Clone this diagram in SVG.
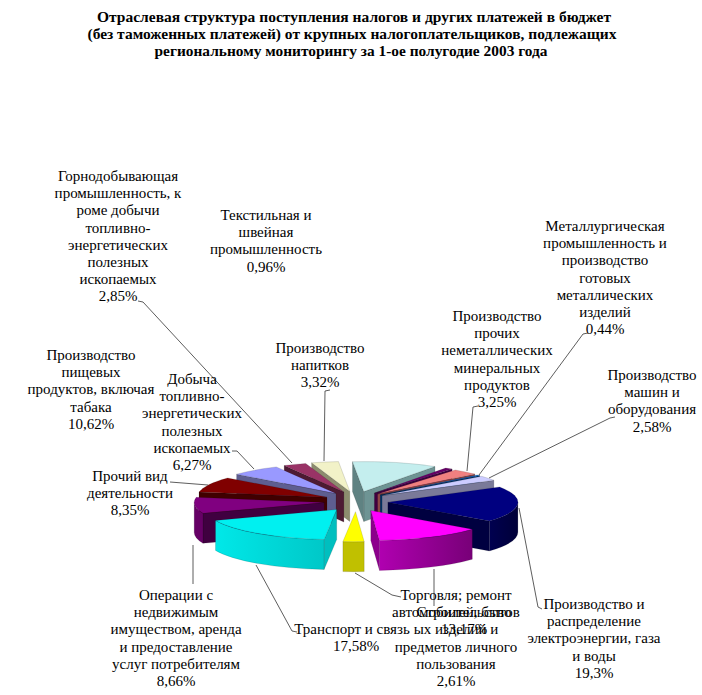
<svg xmlns="http://www.w3.org/2000/svg" width="702" height="695" viewBox="0 0 702 695">
<style>
  .lbl { font-family: "Liberation Serif", "DejaVu Serif", serif; font-size: 15px; fill: #000; text-anchor: middle; }
  .ttl { font-family: "Liberation Serif", "DejaVu Serif", serif; font-size: 15px; font-weight: bold; fill: #000; text-anchor: middle; }
  .ld { fill: none; stroke: #333; stroke-width: 0.8; }
  .s { stroke: #000; stroke-opacity: 0.25; stroke-width: 0.5; stroke-linejoin: round; }
</style>
<defs>
  <linearGradient id="gCyan" x1="0" y1="0" x2="1" y2="0">
    <stop offset="0" stop-color="#00E8E8"/>
    <stop offset="1" stop-color="#00C8C8"/>
  </linearGradient>
  <linearGradient id="gMag" x1="0" y1="0" x2="1" y2="0">
    <stop offset="0" stop-color="#B000B0"/>
    <stop offset="1" stop-color="#780078"/>
  </linearGradient>
  <linearGradient id="gNavy" x1="0" y1="0" x2="1" y2="0">
    <stop offset="0" stop-color="#000050"/>
    <stop offset="1" stop-color="#000038"/>
  </linearGradient>
</defs>
<rect width="702" height="695" fill="#fff"/>

<g id="title">
  <text class="ttl" x="354" y="22" textLength="514" lengthAdjust="spacingAndGlyphs">Отраслевая структура поступления налогов и других платежей в бюджет</text>
  <text class="ttl" x="352" y="39" textLength="529" lengthAdjust="spacingAndGlyphs">(без таможенных платежей) от крупных налогоплательщиков, подлежащих</text>
  <text class="ttl" x="351" y="56" textLength="393" lengthAdjust="spacingAndGlyphs">региональному мониторингу за 1-ое полугодие 2003 года</text>
</g>

<g id="connectors">
  <polyline class="ld" points="138,301 143,302 292,463"/>
  <polyline class="ld" points="330,390 325,391 324,461"/>
  <polyline class="ld" points="232,451 237,451 254,469"/>
  <polyline class="ld" points="170,482 208,485"/>
  <polyline class="ld" points="193,584 193,545"/>
  <polyline class="ld" points="297,632 292,631 256,565"/>
  <polyline class="ld" points="401,597 392,595 355,573"/>
  <polyline class="ld" points="434,606 434,569"/>
  <polyline class="ld" points="542,609 538,607 519,508"/>
  <polyline class="ld" points="588,333 583,334 479,475"/>
  <polyline class="ld" points="478,406 473,407 467,471"/>
  <polyline class="ld" points="615,417 610,418 489,478"/>
</g>

<g id="slice-napitki">
  <path class="s" d="M349.8,491.5 L311.6,462.8 L311.6,492.8 L349.8,521.5 Z" fill="#8C8C6E"/>
  <path class="s" d="M349.8,491.5 L311.6,462.8 A130,30 0 0 1 338.5,461.6 Z" fill="#F2F2C8"/>
  <text class="lbl" x="320" y="353">Производство<tspan x="320" dy="17.2">напитков</tspan><tspan x="320" dy="17.2">3,32%</tspan></text>
</g>

<g id="slice-pishchevye">
  <path class="s" d="M363.8,491.6 L435.0,466.5 L435.0,496.5 L363.8,521.6 Z" fill="#6E9494"/>
  <path class="s" d="M363.8,491.6 L352.5,461.7 L352.5,491.7 L363.8,521.6 Z" fill="#5F8282"/>
  <path class="s" d="M363.8,491.6 L352.5,461.7 A130,30 0 0 1 435.0,466.5 Z" fill="#C4EEEE"/>
  <text class="lbl" x="91" y="360">Производство<tspan x="91" dy="17.2">пищевых</tspan><tspan x="91" dy="17.2">продуктов, включая</tspan><tspan x="91" dy="17.2">табака</tspan><tspan x="91" dy="17.2">10,62%</tspan></text>
</g>

<g id="slice-gornodob">
  <path class="s" d="M343.9,492.1 L284.2,465.5 L284.2,495.5 L343.9,522.1 Z" fill="#4D1A33"/>
  <path class="s" d="M343.9,492.1 L284.2,465.5 A130,30 0 0 1 305.7,463.4 Z" fill="#993366"/>
  <text class="lbl" x="118" y="181">Горнодобывающая<tspan x="118" dy="17.2">промышленность, к</tspan><tspan x="118" dy="17.2">роме добычи</tspan><tspan x="118" dy="17.2">топливно-</tspan><tspan x="118" dy="17.2">энергетических</tspan><tspan x="118" dy="17.2">полезных</tspan><tspan x="118" dy="17.2">ископаемых</tspan><tspan x="118" dy="17.2">2,85%</tspan></text>
</g>

<g id="slice-tekstil">
  <path class="s" d="M374.4,493.1 L452.1,469.1 L452.1,499.1 L374.4,523.1 Z" fill="#400040"/>
  <path class="s" d="M374.4,493.1 L445.6,468.0 A130,30 0 0 1 452.1,469.1 Z" fill="#660066"/>
  <text class="lbl" x="266" y="220">Текстильная и<tspan x="266" dy="17.2">швейная</tspan><tspan x="266" dy="17.2">промышленность</tspan><tspan x="266" dy="17.2">0,96%</tspan></text>
</g>

<g id="slice-dobycha">
  <path class="s" d="M336.0,493.5 L236.6,474.2 L236.6,504.2 L336.0,523.5 Z" fill="#5E5E90"/>
  <path class="s" d="M336.0,493.5 L236.6,474.2 A130,30 0 0 1 276.3,466.9 Z" fill="#9999FF"/>
  <text class="lbl" x="192" y="384">Добыча<tspan x="192" dy="17.2">топливно-</tspan><tspan x="192" dy="17.2">энергетических</tspan><tspan x="192" dy="17.2">полезных</tspan><tspan x="192" dy="17.2">ископаемых</tspan><tspan x="192" dy="17.2">6,27%</tspan></text>
</g>

<g id="slice-nemetall">
  <path class="s" d="M377.6,494.0 L474.8,474.1 L474.8,504.1 L377.6,524.0 Z" fill="#904848"/>
  <path class="s" d="M377.6,494.0 L455.3,470.0 A130,30 0 0 1 474.8,474.1 Z" fill="#F08080"/>
  <text class="lbl" x="497" y="321">Производство<tspan x="497" dy="17.2">прочих</tspan><tspan x="497" dy="17.2">неметаллических</tspan><tspan x="497" dy="17.2">минеральных</tspan><tspan x="497" dy="17.2">продуктов</tspan><tspan x="497" dy="17.2">3,25%</tspan></text>
</g>

<g id="slice-metallurg">
  <path class="s" d="M380.2,494.8 L479.8,475.5 L479.8,505.5 L380.2,524.8 Z" fill="#003366"/>
  <path class="s" d="M380.2,494.8 L477.4,474.9 A130,30 0 0 1 479.8,475.5 Z" fill="#0066CC"/>
  <text class="lbl" x="605" y="231">Металлургическая<tspan x="605" dy="17.2">промышленность и</tspan><tspan x="605" dy="17.2">производство</tspan><tspan x="605" dy="17.2">готовых</tspan><tspan x="605" dy="17.2">металлических</tspan><tspan x="605" dy="17.2">изделий</tspan><tspan x="605" dy="17.2">0,44%</tspan></text>
</g>

<g id="slice-mashiny">
  <path class="s" d="M382.1,495.6 L493.9,480.3 L493.9,510.3 L382.1,525.6 Z" fill="#7A7A99"/>
  <path class="s" d="M382.1,495.6 L481.7,476.3 A130,30 0 0 1 493.9,480.3 Z" fill="#CCCCFF"/>
  <text class="lbl" x="652" y="380">Производство<tspan x="652" dy="17.2">машин и</tspan><tspan x="652" dy="17.2">оборудования</tspan><tspan x="652" dy="17.2">2,58%</tspan></text>
</g>

<g id="slice-prochiy">
  <path class="s" d="M327.0,497.2 L199.0,492.0 L199.0,522.0 L327.0,527.2 Z" fill="#400000"/>
  <path class="s" d="M327.0,497.2 L199.0,492.0 A130,30 0 0 1 227.6,477.9 Z" fill="#800000"/>
  <text class="lbl" x="130" y="481">Прочий вид<tspan x="130" dy="17.2">деятельности</tspan><tspan x="130" dy="17.2">8,35%</tspan></text>
</g>

<g id="slice-elektro">
  <path class="s" d="M387.9,502.2 L489.4,521.0 L489.4,551.0 L387.9,532.2 Z" fill="#000040"/>
  <path class="s" d="M517.9,502.2 A130,30 0 0 1 489.4,521.0 L489.4,551.0 A130,30 0 0 0 517.9,532.2 Z" fill="url(#gNavy)"/>
  <path class="s" d="M387.9,502.2 L499.7,486.9 A130,30 0 0 1 489.4,521.0 Z" fill="#000080"/>
  <text class="lbl" x="594" y="609">Производство и<tspan x="594" dy="17.2">распределение</tspan><tspan x="594" dy="17.2">электроэнергии, газа</tspan><tspan x="594" dy="17.2">и воды</tspan><tspan x="594" dy="17.2">19,3%</tspan></text>
</g>

<g id="slice-operacii">
  <path class="s" d="M324.2,502.5 L203.0,513.3 L203.0,543.3 L324.2,532.5 Z" fill="#400040"/>
  <path class="s" d="M203.0,513.3 A130,30 0 0 1 194.2,502.5 L194.2,532.5 A130,30 0 0 0 203.0,543.3 Z" fill="#660066"/>
  <path class="s" d="M324.2,502.5 L203.0,513.3 A130,30 0 0 1 196.2,497.3 Z" fill="#800080"/>
  <text class="lbl" x="176" y="600">Операции с<tspan x="176" dy="17.2">недвижимым</tspan><tspan x="176" dy="17.2">имуществом, аренда</tspan><tspan x="176" dy="17.2">и предоставление</tspan><tspan x="176" dy="17.2">услуг потребителям</tspan><tspan x="176" dy="17.2">8,66%</tspan></text>
</g>

<g id="slice-transport">
  <path class="s" d="M336.7,509.6 L324.1,539.5 L324.1,569.5 L336.7,539.6 Z" fill="#00BFBF"/>
  <path class="s" d="M324.1,539.5 A130,30 0 0 1 215.5,520.4 L215.5,550.4 A130,30 0 0 0 324.1,569.5 Z" fill="url(#gCyan)"/>
  <path class="s" d="M336.7,509.6 L324.1,539.5 A130,30 0 0 1 215.5,520.4 Z" fill="#00F0F0"/>
  <text class="lbl" x="352" y="634">Транспорт и связь<tspan x="356" dy="17.2">17,58%</tspan></text>
</g>

<g id="slice-stroitelstvo">
  <path class="s" d="M370.8,510.5 L379.5,540.4 L379.5,570.4 L370.8,540.5 Z" fill="#8C008C"/>
  <path class="s" d="M472.3,529.3 A130,30 0 0 1 379.5,540.4 L379.5,570.4 A130,30 0 0 0 472.3,559.3 Z" fill="url(#gMag)"/>
  <path class="s" d="M370.8,510.5 L472.3,529.3 A130,30 0 0 1 379.5,540.4 Z" fill="#FF00FF"/>
  <text class="lbl" x="464" y="617">Строительство<tspan x="464" dy="17.2">13,17%</tspan></text>
</g>

<g id="slice-torgovlya">
  <path class="s" d="M364.2,541.6 A130,30 0 0 1 342.9,541.6 L342.9,571.6 A130,30 0 0 0 364.2,571.6 Z" fill="#C0C000"/>
  <path class="s" d="M355.5,511.7 L364.2,541.6 A130,30 0 0 1 342.9,541.6 Z" fill="#FFFF00"/>
  <text class="lbl" x="456" y="600">Торговля; ремонт<tspan x="456" dy="17.2">автомобилей, бытов</tspan><tspan x="456" dy="17.2">ых изделий и</tspan><tspan x="456" dy="17.2">предметов личного</tspan><tspan x="456" dy="17.2">пользования</tspan><tspan x="456" dy="17.2">2,61%</tspan></text>
</g>
</svg>
